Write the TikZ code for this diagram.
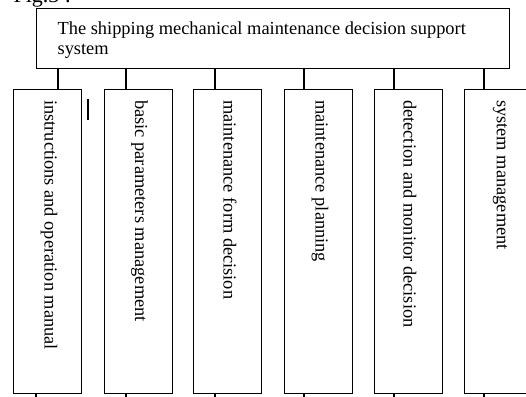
\documentclass[tikz,border=0pt]{standalone}
\usepackage{fontspec}
\setmainfont{Liberation Serif}
\begin{document}
\begin{tikzpicture}[x=1pt,y=-1pt,
  line width=1.2pt,
  txt/.style={inner sep=0pt, font=\fontsize{18.4}{20.5}\selectfont},
  modbox/.style={draw, line width=1.2pt, minimum width=68pt, minimum height=304pt, anchor=north west, inner sep=0pt},
  modtxt/.style={txt, rotate=-90, anchor=west},
  link/.style={line width=1.2pt}
]
\useasboundingbox (0,0) rectangle (526,396);
\clip (0,0) rectangle (526,396);

% caption line above the chart, mostly above the page edge
\node[inner sep=0pt, font=\fontsize{22}{24}\selectfont, anchor=base west] (fig) at (13,2.5) {Fig.3 :};

% system box
\node[draw, line width=1.2pt, minimum width=473pt, minimum height=60pt, anchor=north west, inner sep=0pt] (sys) at (36,8) {};
% the base anchor of a two-line node sits on its last line
\node[txt, anchor=base west, align=left] (systxt) at (57,55)
  {The shipping mechanical maintenance decision support\\system};

% module boxes
\node[modbox] (b1) at (13,89) {};
\node[modbox] (b2) at (103.5,89) {};
\node[modbox] (b3) at (193,89) {};
\node[modbox] (b4) at (284,89) {};
\node[modbox] (b5) at (374,89) {};
\node[modbox] (b6) at (464,89) {};

\node[modtxt] (m1) at (49,99.5) {instructions and operation manual};
\node[modtxt] (m2) at (139.5,99.5) {basic parameters management};
\node[modtxt] (m3) at (230,99.5) {maintenance form decision};
\node[modtxt] (m4) at (320,99.5) {maintenance planning};
\node[modtxt] (m5) at (410,99.5) {detection and monitor decision};
\node[modtxt] (m6) at (500,99.5) {system management};

% connector positions
\coordinate (t1) at (58,0);
\coordinate (t2) at (126,0);
\coordinate (t3) at (215,0);
\coordinate (t4) at (304,0);
\coordinate (t5) at (394,0);
\coordinate (t6) at (484,0);
\coordinate (u1) at (36,0);

\foreach \i in {1,...,6} {
  \draw[link] (sys.south -| t\i) -- (b\i.north -| t\i);
}

% lines leaving the bottom of the boxes
\draw[link] (b1.south -| u1) -- ++(0,12) coordinate (d1);
\foreach \i in {2,...,6} {
  \draw[link] (b\i.south -| t\i) -- ++(0,12) coordinate (d\i);
}

% short mark between the first two boxes
\draw[link] (88,99) -- (88,120);
\end{tikzpicture}
\end{document}
